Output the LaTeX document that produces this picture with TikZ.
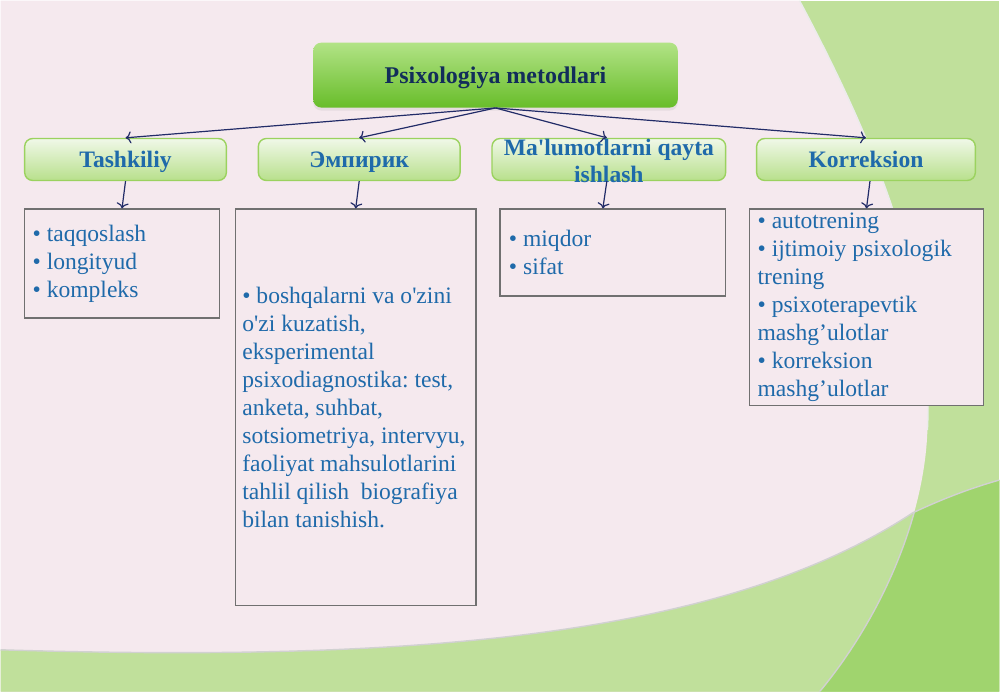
\documentclass[tikz,border=0pt]{standalone}
\usepackage{fontspec}
\setmainfont{Liberation Serif}
\usepackage{tikz}
\usetikzlibrary{positioning, arrows.meta, calc, shadows}

\definecolor{bgpink}{HTML}{F5E9EE}
\definecolor{lightgreen}{HTML}{C0E09B}
\definecolor{darkgreen}{HTML}{A0D46E}
\definecolor{itemblue}{HTML}{1F6AAA}
\definecolor{navy}{HTML}{122D5A}
\definecolor{arrowblue}{HTML}{222C68}
\definecolor{catborder}{HTML}{9BD25F}
\definecolor{cattop}{HTML}{F0F8E8}
\definecolor{catbot}{HTML}{B8E08C}
\definecolor{roottop}{HTML}{B2E386}
\definecolor{rootbot}{HTML}{68BD2A}
\definecolor{boxgray}{HTML}{707070}
\frenchspacing

\begin{document}
\begin{tikzpicture}[x=0.5pt, y=-0.5pt,
	rootbox/.style={rounded corners=4pt, minimum width=182.5pt, minimum height=32.5pt, inner sep=0pt, text height=10.5pt, text depth=2pt, top color=roottop, bottom color=rootbot, text=navy, font=\fontsize{12}{14}\selectfont\bfseries, drop shadow={opacity=0.12, shadow xshift=0pt, shadow yshift=-1.5pt}},
	catbox/.style={draw=catborder, line width=0.7pt, rounded corners=4pt, minimum height=21pt, inner sep=0pt, text height=10.2pt, text depth=2.4pt, top color=cattop, bottom color=catbot, text=itemblue, font=\fontsize{11.8}{13}\selectfont\bfseries},
	cattext/.style={text=itemblue, align=center, inner sep=0pt, font=\fontsize{11.8}{13.5}\selectfont\bfseries},
	listbox/.style={draw=boxgray, line width=0.8pt, fill=bgpink, text=itemblue, align=flush left, anchor=north, inner ysep=2pt, font=\fontsize{11.8}{14}\selectfont},
	fanarrow/.style={-{To[length=2.8pt, width=6pt]}, draw=arrowblue, line width=0.6pt},
	edgeline/.style={draw=black!18, line width=0.7pt},
]
	% Background
	\fill[lightgreen] (0,0) rectangle (1000,692);
	\fill[bgpink] (0,0) -- (800,0) .. controls (880,150) and (935,290) .. (928,430) .. controls (925,520) and (880,620) .. (820,692) -- (0,692) -- cycle;
	\fill[lightgreen] (0,650) .. controls (400,662) and (720,640) .. (913,513) .. controls (945,498) and (972,488) .. (1000,480) -- (1000,692) -- (0,692) -- cycle;
	\begin{scope}
		\clip (0,650) .. controls (400,662) and (720,640) .. (913,513) .. controls (945,498) and (972,488) .. (1000,480) -- (1000,692) -- (0,692) -- cycle;
		\fill[darkgreen] (800,0) .. controls (880,150) and (935,290) .. (928,430) .. controls (925,520) and (880,620) .. (820,692) -- (1000,692) -- (1000,0) -- cycle;
		\draw[edgeline] (928,430) .. controls (925,520) and (880,620) .. (820,692);
	\end{scope}
	\draw[edgeline] (0,650) .. controls (400,662) and (720,640) .. (913,513) .. controls (945,498) and (972,488) .. (1000,480);
	\draw[edgeline, draw=black!8] (800,0) .. controls (880,150) and (935,290) .. (928,430);

	% Root
	\node[rootbox] (root) at (495.5,74.5) {Psixologiya metodlari};

	% Categories
	\node[catbox, minimum width=101pt] (tash) at (125,159) {Tashkiliy};
	\node[catbox, minimum width=101pt] (emp) at (359,159) {Эмпирик};
	\node[catbox, minimum width=117pt] (proc) at (609,159) {};
	\node[cattext] (proctext) at (609,160) {Ma\textquotesingle lumotlarni qayta\\ishlash};
	\node[catbox, minimum width=109.5pt] (corr) at (866.5,159) {Korreksion};

	% Lists
	\node[listbox, inner xsep=4pt, text width=89.5pt, minimum height=54.5pt] (tashlist) at (121.5,208) {• taqqoslash\\• longityud\\• kompleks};
	\node[listbox, inner xsep=3.5pt, text width=113.5pt, minimum height=198.5pt] (emplist) at (355.5,208) {• boshqalarni va o\textquotesingle zini\\o\textquotesingle zi kuzatish,\\eksperimental\\psixodiagnostika: test,\\anketa, suhbat,\\sotsiometriya, intervyu,\\faoliyat mahsulotlarini\\tahlil qilish~ biografiya\\bilan tanishish.};
	\node[listbox, inner xsep=4.5pt, text width=104pt, minimum height=43.5pt] (proclist) at (613,208) {• miqdor\\• sifat};
	\node[listbox, inner xsep=4pt, text width=109pt, minimum height=97.5pt] (corrlist) at (867,208) {• autotrening\\• ijtimoiy psixologik\\trening\\• psixoterapevtik\\mashg’ulotlar\\• korreksion\\mashg’ulotlar};

	% Arrows
	\draw[fanarrow] (root.south) -- (tash.north);
	\draw[fanarrow] (root.south) -- (emp.north);
	\draw[fanarrow] (root.south) -- ([xshift=-1pt]proc.north);
	\draw[fanarrow] (root.south) -- (corr.north);
	\draw[fanarrow] (tash.south) -- (tashlist.north);
	\draw[fanarrow] (emp.south) -- (emplist.north);
	\draw[fanarrow] ([xshift=-1pt]proc.south) -- ([xshift=-5pt]proclist.north);
	\draw[fanarrow] ([xshift=2pt]corr.south) -- (corrlist.north);
\end{tikzpicture}
\end{document}
